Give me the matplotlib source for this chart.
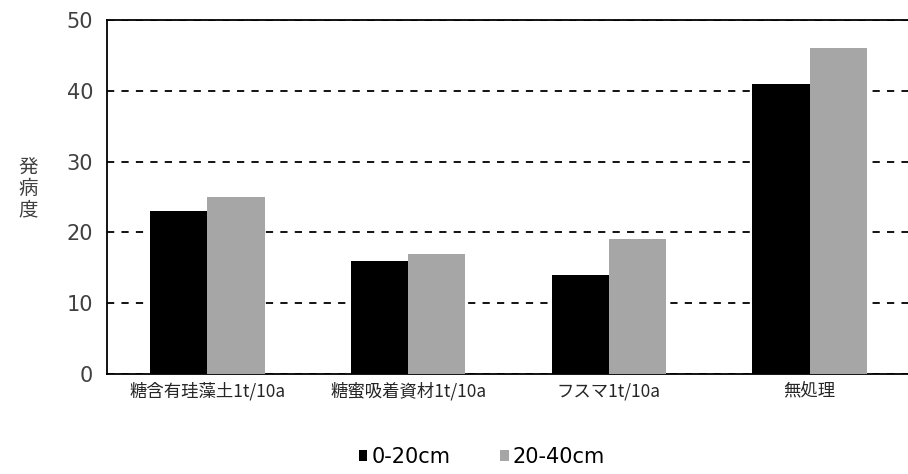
import matplotlib
matplotlib.use("Agg")
import matplotlib.pyplot as plt
import numpy as np

plt.rcParams['font.family'] = ['DejaVu Sans', 'Noto Sans CJK JP']

categories = ["糖含有珪藻土1t/10a", "糖蜜吸着資材1t/10a", "フスマ1t/10a", "無処理"]
depth_0_20 = [23, 16, 14, 41]
depth_20_40 = [25, 17, 19, 46]
series_labels = ["0-20cm", "20-40cm"]
yticks = [0, 10, 20, 30, 40, 50]

fig = plt.figure(figsize=(9.08, 4.74), dpi=100)
ax = fig.add_axes([107/908, 1 - 374/474, (910 - 107)/908, (374 - 20)/474])

x = np.arange(len(categories))
w = 0.285
ax.bar(x - w/2, depth_0_20, w, color="black", label=series_labels[0], zorder=3)
ax.bar(x + w/2, depth_20_40, w, color="#a6a6a6", label=series_labels[1], zorder=3)

ax.set_xlim(-0.5, len(categories) - 0.5)
ax.set_ylim(0, 50)
ax.set_yticks(yticks)
ax.set_yticklabels([str(v) for v in yticks], fontsize=15, color="#404040")
ax.set_xticks(x)
ax.set_xticklabels(categories, fontsize=12.5, color="#262626", family="Noto Sans CJK JP")
ax.tick_params(axis="y", length=0, pad=10)
ax.tick_params(axis="x", length=0, pad=6)
ax.yaxis.grid(True, linestyle=(0, (4, 4)), color="black", linewidth=1.3, zorder=0)
for s in ax.spines.values():
    s.set_linewidth(1.3)
    s.set_color("black")

fig.text(28/908, 1 - 189/474, "発\n病\n度", fontsize=14, ha="center", va="center",
         color="#404040", linespacing=1.0, family="Noto Sans CJK JP")

fig.legend(loc="center", bbox_to_anchor=(482/908, 1 - 457/474), ncol=2, frameon=False,
           fontsize=15, handlelength=0.4, handleheight=0.4, handletextpad=0.2,
           columnspacing=2.4)

fig.savefig("out.png", dpi=100)
